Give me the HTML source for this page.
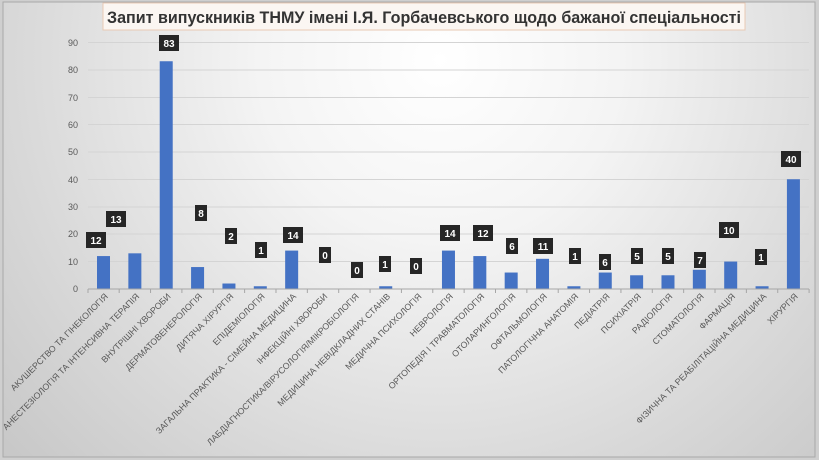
<!DOCTYPE html>
<html><head><meta charset="utf-8"><style>
html,body{margin:0;padding:0;}
body{width:819px;height:460px;overflow:hidden;}
</style></head><body>
<svg width="819" height="460" xmlns="http://www.w3.org/2000/svg" font-family="'Liberation Sans', sans-serif">
<defs>
<radialGradient id="bg" cx="440" cy="60" r="600" gradientUnits="userSpaceOnUse">
<stop offset="0" stop-color="#ffffff"/>
<stop offset="0.3" stop-color="#f4f4f4"/>
<stop offset="0.7" stop-color="#d9d9d9"/>
<stop offset="1" stop-color="#c6c6c6"/>
</radialGradient>
</defs>
<rect x="0" y="0" width="819" height="460" fill="#cfcfcf"/>
<rect x="3" y="2" width="812" height="455" fill="url(#bg)" stroke="#a8a8a8" stroke-width="1"/>
<rect x="103" y="3" width="642" height="27" fill="#fbf6f2" stroke="#e8c9b4" stroke-width="1"/>
<text x="424" y="23" text-anchor="middle" font-size="17" font-weight="bold" fill="#333" textLength="634" lengthAdjust="spacingAndGlyphs">Запит випускників ТНМУ імені І.Я. Горбачевського щодо бажаної спеціальності</text>
<g stroke="#d4d4d4" stroke-width="1">
<line x1="88" y1="42.5" x2="809" y2="42.5"/><line x1="88" y1="70" x2="809" y2="70"/><line x1="88" y1="97.5" x2="809" y2="97.5"/><line x1="88" y1="124.5" x2="809" y2="124.5"/><line x1="88" y1="152" x2="809" y2="152"/><line x1="88" y1="179.5" x2="809" y2="179.5"/><line x1="88" y1="207" x2="809" y2="207"/><line x1="88" y1="234" x2="809" y2="234"/><line x1="88" y1="261.5" x2="809" y2="261.5"/>
</g>
<g font-size="9" fill="#595959" text-anchor="end">
<text x="78" y="46">90</text><text x="78" y="73">80</text><text x="78" y="101">70</text><text x="78" y="128">60</text><text x="78" y="155">50</text><text x="78" y="183">40</text><text x="78" y="210">30</text><text x="78" y="237">20</text><text x="78" y="265">10</text><text x="78" y="292">0</text>
</g>
<g id="bars"></g>
<line x1="88" y1="289" x2="809" y2="289" stroke="#a6a6a6" stroke-width="1"/>
<g id="ticks" stroke="#a6a6a6"></g>
<g id="labels" font-size="8.8" fill="#595959"></g>
<g id="dl"></g>
</svg>
<script>
var d=[12,13,83,8,2,1,14,0,0,1,0,14,12,6,11,1,6,5,5,7,10,1,40];
var n=["АКУШЕРСТВО ТА ГІНЕКОЛОГІЯ","АНЕСТЕЗІОЛОГІЯ ТА ІНТЕНСИВНА ТЕРАПІЯ","ВНУТРІШНІ ХВОРОБИ","ДЕРМАТОВЕНЕРОЛОГІЯ","ДИТЯЧА ХІРУРГІЯ","ЕПІДЕМІОЛОГІЯ","ЗАГАЛЬНА ПРАКТИКА - СІМЕЙНА МЕДИЦИНА","ІНФЕКЦІЙНІ ХВОРОБИ","ЛАБДІАГНОСТИКА/ВІРУСОЛОГІЯ/МІКРОБІОЛОГІЯ","МЕДИЦИНА НЕВІДКЛАДНИХ СТАНІВ","МЕДИЧНА ПСИХОЛОГІЯ","НЕВРОЛОГІЯ","ОРТОПЕДІЯ І ТРАВМАТОЛОГІЯ","ОТОЛАРИНГОЛОГІЯ","ОФТАЛЬМОЛОГІЯ","ПАТОЛОГІЧНА АНАТОМІЯ","ПЕДІАТРІЯ","ПСИХІАТРІЯ","РАДІОЛОГІЯ","СТОМАТОЛОГІЯ","ФАРМАЦІЯ","ФІЗИЧНА ТА РЕАБІЛІТАЦІЙНА МЕДИЦИНА","ХІРУРГІЯ"];
var pos=[[96,240],[116,219],[169,43],[201,213],[231,236],[261,250],[293,235],[325,255],[357,270],[385,264],[416,266],[450,233],[483,233],[512,246],[543,246],[575,256],[605,262],[637,256],[668,256],[700,260],[729,230],[761,257],[791,159]];
var NS="http://www.w3.org/2000/svg";
function el(t,a,p,tx){var e=document.createElementNS(NS,t);for(var k in a)e.setAttribute(k,a[k]);if(tx!=null)e.textContent=tx;document.getElementById(p).appendChild(e);return e;}
var w=31.36;
for(var i=0;i<23;i++){
 var cx=103.5+i*w, h=d[i]*2.744;
 el("rect",{x:cx-6.5,y:289-h,width:13,height:h,fill:"#4472c4"},"bars");
 el("line",{x1:cx+w/2,y1:289,x2:cx+w/2,y2:293},"ticks");
 if(i==0) el("line",{x1:88,y1:289,x2:88,y2:293},"ticks");
 el("text",{x:0,y:0,"text-anchor":"end",transform:"translate("+(cx+5)+",297) rotate(-45)"},"labels",n[i]);
 var s=String(d[i]); var bw=s.length>1?20:12;
 el("rect",{x:pos[i][0]-bw/2,y:pos[i][1]-8,width:bw,height:16,fill:"#262626"},"dl");
 el("text",{x:pos[i][0],y:pos[i][1]+4,"text-anchor":"middle","font-size":"10","font-weight":"bold",fill:"#fff"},"dl",s);
}
</script>
</body></html>
